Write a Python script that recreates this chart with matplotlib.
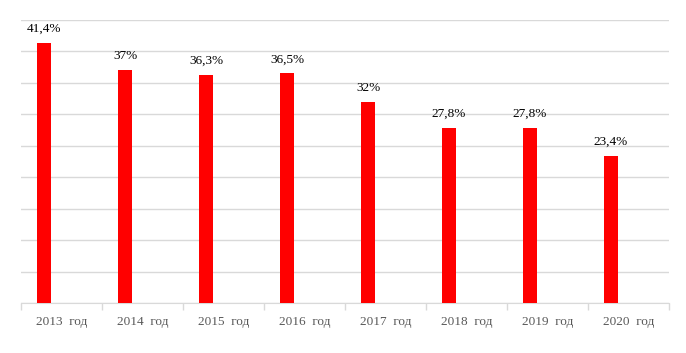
import matplotlib
matplotlib.use("Agg")
import matplotlib.pyplot as plt
import numpy as np

years = ["2013", "2014", "2015", "2016", "2017", "2018", "2019", "2020"]
values = [41.4, 37.0, 36.3, 36.5, 32.0, 27.8, 27.8, 23.4]
labels = ["41,4%", "37%", "36,3%", "36,5%", "32%", "27,8%", "27,8%", "23,4%"]
tick_labels = [y + "  год" for y in years]

plt.rcParams["font.family"] = ["Liberation Serif", "DejaVu Serif"]

fig = plt.figure(figsize=(6.86, 3.53), dpi=100)
ax = fig.add_axes([21 / 686, 50 / 353, 648 / 686, 283 / 353])

x = np.arange(len(years))
offset, width = -0.216, 0.173
bars = ax.bar(x + offset, values, width=width, color="#ff0000", zorder=3)
for b, lab in zip(bars, labels):
    ax.text(b.get_x() + b.get_width() / 2, b.get_height() + 1.3, lab,
            ha="center", va="bottom", fontsize=9.5, color="black")

ax.set_xlim(-0.5, len(years) - 0.5)
ax.set_ylim(0, 45)
ax.set_yticks(np.arange(0, 46, 5))
ax.yaxis.grid(True, color="#d9d9d9", linewidth=1, zorder=0)
ax.tick_params(axis="y", left=False, labelleft=False)

ax.set_xticks(x)
ax.set_xticklabels(tick_labels, fontsize=9.5, color="#595959")
ax.tick_params(axis="x", length=0, pad=9)
ax.set_xticks(np.arange(-0.5, len(years)), minor=True)
ax.tick_params(axis="x", which="minor", length=5, color="#d9d9d9", width=1)

for s in ("left", "right", "top"):
    ax.spines[s].set_visible(False)
ax.spines["bottom"].set_color("#d9d9d9")

fig.savefig("out.png", dpi=100)
